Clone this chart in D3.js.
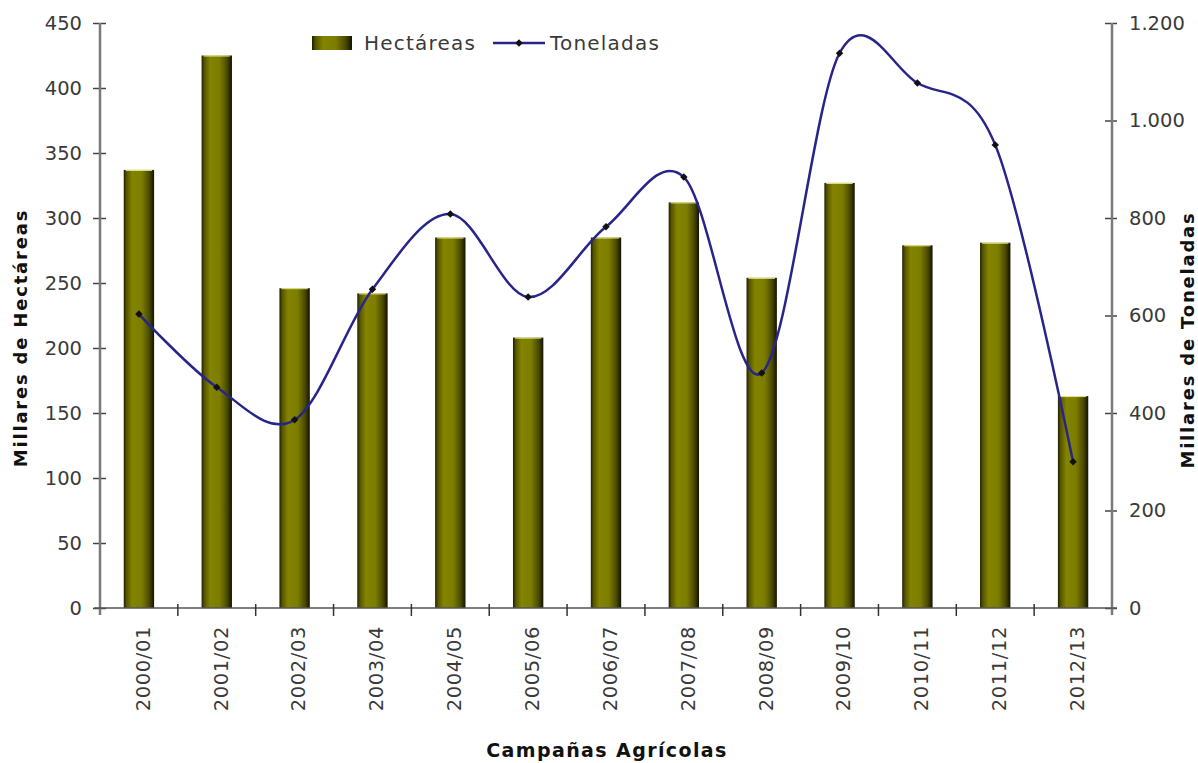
<!DOCTYPE html>
<html>
<head>
<meta charset="utf-8">
<script src="https://cdn.jsdelivr.net/npm/d3@7"></script>
<style>
  body { margin: 0; background: #fff; }
  text { font-family: "DejaVu Sans", Verdana, sans-serif; }
</style>
</head>
<body>
<svg id="chart"></svg>
<script>
// campaigns on the x axis
const campaigns = ["2000/01", "2001/02", "2002/03", "2003/04", "2004/05", "2005/06", "2006/07",
                   "2007/08", "2008/09", "2009/10", "2010/11", "2011/12", "2012/13"];
// thousands of hectares (bars, left axis)
const hectareas = [337, 425, 246, 242, 285, 208, 285, 312, 254, 327, 279, 281, 163];
// thousands of tonnes (line, right axis)
const toneladas = [603, 453, 386, 654, 808, 638, 782, 884, 482, 1138, 1077, 950, 300];

const leftTicks = [0, 50, 100, 150, 200, 250, 300, 350, 400, 450];
const rightTicks = [0, 200, 400, 600, 800, 1000, 1200];

const width = 1198, height = 763;
const margin = {top: 23, right: 86, bottom: 155, left: 100};

const svg = d3.select("#chart")
    .attr("width", width)
    .attr("height", height);

const plotW = width - margin.left - margin.right;
const plotH = height - margin.top - margin.bottom;

const chart = svg.append("g")
    .attr("transform", `translate(${margin.left}, ${margin.top})`);

// scales
const xScale = d3.scaleBand()
    .domain(campaigns)
    .range([0, plotW]);

const yLeft = d3.scaleLinear()
    .domain([0, 450])
    .range([plotH, 0]);

const yRight = d3.scaleLinear()
    .domain([0, 1200])
    .range([plotH, 0]);

const es = d3.formatLocale({decimal: ",", thousands: ".", grouping: [3], currency: ["", "€"]});
const fmt = es.format(",d");

const labelSize = 19.5;
const labelColor = "#3a3a3a";

// bar gradient
const defs = svg.append("defs");
const grad = defs.append("linearGradient")
    .attr("id", "barGrad")
    .attr("x1", "0%").attr("x2", "100%")
    .attr("y1", "0%").attr("y2", "0%");
[[0, "#1e1e00"], [9, "#555500"], [28, "#848400"], [60, "#7c7c00"], [84, "#4a4a00"], [100, "#121200"]]
    .forEach(s => grad.append("stop").attr("offset", s[0] + "%").attr("stop-color", s[1]));

// bars
const barW = xScale.bandwidth() * 0.39;
chart.selectAll("rect.bar")
    .data(hectareas)
    .join("rect")
    .attr("class", "bar")
    .attr("x", (d, i) => xScale(campaigns[i]) + xScale.bandwidth() / 2 - barW / 2)
    .attr("y", d => yLeft(d))
    .attr("width", barW)
    .attr("height", d => plotH - yLeft(d))
    .attr("fill", "url(#barGrad)");

// bar top highlight
chart.selectAll("line.barTop")
    .data(hectareas)
    .join("line")
    .attr("class", "barTop")
    .attr("x1", (d, i) => xScale(campaigns[i]) + xScale.bandwidth() / 2 - barW / 2 + 2)
    .attr("x2", (d, i) => xScale(campaigns[i]) + xScale.bandwidth() / 2 + barW / 2 - 2)
    .attr("y1", d => yLeft(d) + 0.5)
    .attr("y2", d => yLeft(d) + 0.5)
    .attr("stroke", "#e8e890")
    .attr("stroke-width", 1);

// axes
const axisColor = "#7a7a7a";

const leftAxis = chart.append("g")
    .call(d3.axisLeft(yLeft).tickValues(leftTicks).tickSize(7).tickPadding(11));
leftAxis.select(".domain").remove();
leftAxis.selectAll(".tick line").attr("x2", 6).attr("x1", -7).attr("stroke", "#444").attr("stroke-width", 1.5);
leftAxis.selectAll("text").attr("font-size", labelSize).attr("fill", labelColor);
chart.append("line")
    .attr("x1", 0).attr("x2", 0).attr("y1", 0).attr("y2", plotH + 7)
    .attr("stroke", axisColor).attr("stroke-width", 2.5);

const rightAxis = chart.append("g")
    .attr("transform", `translate(${plotW}, 0)`)
    .call(d3.axisRight(yRight).tickValues(rightTicks).tickFormat(fmt).tickSize(6).tickPadding(11));
rightAxis.select(".domain").remove();
rightAxis.selectAll(".tick line").attr("x1", -7).attr("x2", 5).attr("stroke", "#444").attr("stroke-width", 1.5);
rightAxis.selectAll("text").attr("font-size", labelSize).attr("fill", labelColor);
chart.append("line")
    .attr("x1", plotW).attr("x2", plotW).attr("y1", 0).attr("y2", plotH + 7)
    .attr("stroke", axisColor).attr("stroke-width", 2.5);

// x axis line and ticks between categories
chart.append("line")
    .attr("x1", -6).attr("x2", plotW + 5)
    .attr("y1", plotH).attr("y2", plotH)
    .attr("stroke", "#555").attr("stroke-width", 1.5);
chart.selectAll("line.xTick")
    .data(campaigns.slice(1))
    .join("line")
    .attr("class", "xTick")
    .attr("x1", d => xScale(d)).attr("x2", d => xScale(d))
    .attr("y1", plotH - 4).attr("y2", plotH + 8)
    .attr("stroke", "#333").attr("stroke-width", 1.5);

chart.selectAll("text.xLabel")
    .data(campaigns)
    .join("text")
    .attr("class", "xLabel")
    .attr("transform", d => `translate(${xScale(d) + xScale.bandwidth() / 2 + 4}, ${plotH + 18}) rotate(-90)`)
    .attr("text-anchor", "end")
    .attr("dy", "0.35em")
    .attr("font-size", labelSize)
    .attr("letter-spacing", 0.6)
    .attr("fill", labelColor)
    .text(d => d);

// tonnes line
const line = d3.line()
    .x((d, i) => xScale(campaigns[i]) + xScale.bandwidth() / 2)
    .y(d => yRight(d))
    .curve(d3.curveCardinal.tension(0));

chart.append("path")
    .datum(toneladas)
    .attr("d", line)
    .attr("fill", "none")
    .attr("stroke", "#28258a")
    .attr("stroke-width", 2.5);

const diamond = d3.symbol().type(d3.symbolSquare).size(28);
chart.selectAll("path.marker")
    .data(toneladas)
    .join("path")
    .attr("class", "marker")
    .attr("transform", (d, i) => `translate(${xScale(campaigns[i]) + xScale.bandwidth() / 2}, ${yRight(d)}) rotate(45)`)
    .attr("d", diamond)
    .attr("fill", "#111");

// axis titles
svg.append("text")
    .attr("transform", `translate(${27}, ${338}) rotate(-90)`)
    .attr("text-anchor", "middle")
    .attr("font-size", 18)
    .attr("font-weight", "bold")
    .attr("letter-spacing", 1.8)
    .attr("fill", "#111")
    .text("Millares de Hectáreas");

svg.append("text")
    .attr("transform", `translate(${1194}, ${340}) rotate(-90)`)
    .attr("text-anchor", "middle")
    .attr("font-size", 18)
    .attr("font-weight", "bold")
    .attr("letter-spacing", 1.8)
    .attr("fill", "#111")
    .text("Millares de Toneladas");

svg.append("text")
    .attr("x", 607).attr("y", 757)
    .attr("text-anchor", "middle")
    .attr("font-size", 19)
    .attr("font-weight", "bold")
    .attr("letter-spacing", 1.4)
    .attr("fill", "#111")
    .text("Campañas Agrícolas");

// legend
const legend = svg.append("g").attr("transform", "translate(312, 36)");
legend.append("rect")
    .attr("x", 0).attr("y", 0).attr("width", 40).attr("height", 14)
    .attr("fill", "url(#barGrad)");
legend.append("text")
    .attr("x", 52).attr("y", 7).attr("dy", "0.35em")
    .attr("font-size", 20).attr("letter-spacing", 1.2).attr("fill", labelColor)
    .text("Hectáreas");
legend.append("line")
    .attr("x1", 181).attr("x2", 233).attr("y1", 7).attr("y2", 7)
    .attr("stroke", "#28258a").attr("stroke-width", 2.5);
legend.append("path")
    .attr("transform", "translate(207, 7) rotate(45)")
    .attr("d", diamond)
    .attr("fill", "#111");
legend.append("text")
    .attr("x", 238).attr("y", 7).attr("dy", "0.35em")
    .attr("font-size", 20).attr("letter-spacing", 1.2).attr("fill", labelColor)
    .text("Toneladas");
</script>
</body>
</html>
